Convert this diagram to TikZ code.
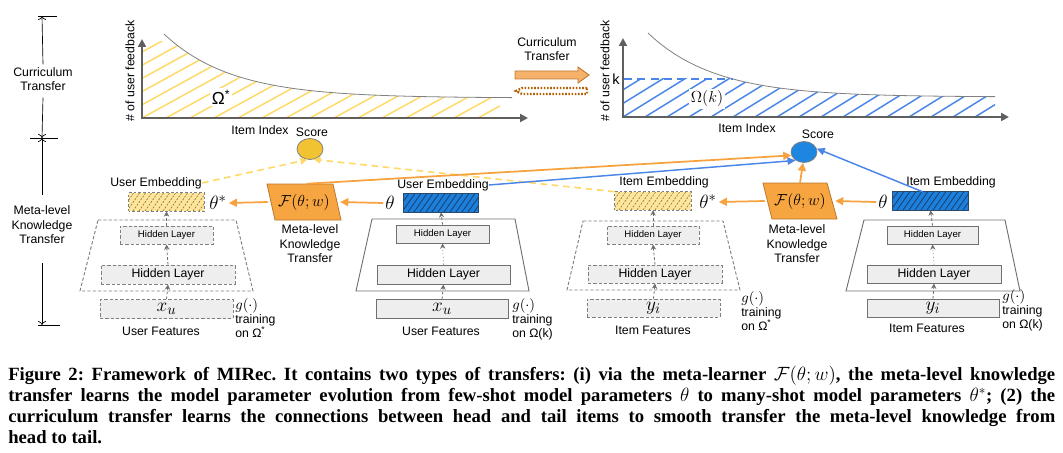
\documentclass[tikz,border=0pt]{standalone}
\usepackage{fontspec}
\setmainfont{Liberation Sans}
\newfontfamily\capfont{Liberation Serif}
\usetikzlibrary{arrows.meta,shapes.geometric}
\definecolor{boxgray}{HTML}{707070}
\definecolor{boxgrayd}{HTML}{808080}
\definecolor{boxfill}{HTML}{EEEEEE}
\definecolor{arrgray}{HTML}{6E6E6E}
\definecolor{axgray}{HTML}{5F5F5F}
\definecolor{orangeL}{HTML}{F8A13F}
\definecolor{fboxfill}{HTML}{F7A541}
\definecolor{fboxdraw}{HTML}{B8762E}
\definecolor{blueL}{HTML}{4A86E8}
\definecolor{bluefill}{HTML}{1C7FDB}
\definecolor{bluehatch}{HTML}{1B3F6E}
\definecolor{blueborder}{HTML}{2B4A6B}
\definecolor{yellowL}{HTML}{FFD966}
\definecolor{yfill}{HTML}{FFE599}
\definecolor{yhatchd}{HTML}{8A7A4A}
\definecolor{scoreY}{HTML}{F1C232}
\definecolor{scoreB}{HTML}{1C86E0}
\definecolor{ctfill}{HTML}{F6B26B}
\definecolor{ctdraw}{HTML}{C07A30}
\definecolor{ctdot}{HTML}{B45F06}
\newcommand\hatchbox[5]{%
  \begin{scope}
    \clip (#1,#2) rectangle (#3,#4);
    \foreach \i in {0,...,22}{\draw[#5] ({#1-14+\i*6},#4) -- ++(14,-20);}
  \end{scope}}
\begin{document}
\begin{tikzpicture}[x=0.75pt,y=-0.75pt,
  lbl/.style={font=\fontsize{9.2}{10.9}\selectfont, inner sep=0pt, align=center},
  lbll/.style={font=\fontsize{9.2}{10.6}\selectfont, inner sep=0pt, align=left, anchor=north west},
  sml/.style={font=\fontsize{7.2}{8}\selectfont},
  mth/.style={font=\fontsize{15}{16}\selectfont, inner sep=1.5pt},
  wh/.style 2 args={minimum width={#1*0.75pt}, minimum height={#2*0.75pt}},
  hb/.style={draw=boxgray, fill=boxfill, line width=0.7pt, inner sep=0pt},
  hbd/.style={draw=boxgrayd, fill=boxfill, line width=0.7pt, inner sep=0pt, dash pattern=on 2.5pt off 1.5pt},
  garr/.style={draw=arrgray, line width=0.6pt, dash pattern=on 2pt off 1.5pt, -{Stealth[length=4pt,width=4pt]}},
  gdot/.style={draw=arrgray, line width=0.6pt, dotted, -{Stealth[length=4pt,width=4pt]}},
  oarr/.style={draw=orangeL, line width=1.3pt, -{Triangle[length=6pt,width=6pt]}},
  barr/.style={draw=blueL, line width=1.1pt, -{Triangle[length=6pt,width=5.5pt]}},
  yarr/.style={draw=yellowL, line width=1.2pt, dash pattern=on 5pt off 3.5pt, -{Triangle[length=5pt,width=5pt]}},
  axis/.style={draw=axgray, line width=1.5pt, -{Triangle[length=6pt,width=6pt]}},
  sarr/.style={draw=black, line width=0.5pt, -{To[length=3pt,width=6pt]}},
  curv/.style={draw=gray, line width=0.6pt},
  yhat/.style={draw=yellowL, line width=1.1pt},
  bhat/.style={draw=blueL, line width=1.1pt},
  score/.style={ellipse, minimum width={26*0.75pt}, minimum height={21*0.75pt}, inner sep=0pt, draw=gray, line width=0.6pt},
  fbox/.style={fill=fboxfill, draw=fboxdraw, line width=0.6pt},
  trap/.style={draw=boxgray, line width=0.7pt},
  trapd/.style={draw=boxgrayd, line width=0.7pt, dash pattern=on 2.5pt off 1.5pt},
]
\useasboundingbox (0,0) rectangle (1063,453);

% ---------------- left scale bar ----------------
\coordinate (tb) at (42,16);
\coordinate (mb) at (42,138);
\coordinate (bb) at (42,325);
\draw[line width=0.5pt] (38,16) -- (57,16);
\draw[line width=0.5pt] (30,138) -- (58,138);
\draw[line width=0.5pt] (38,325) -- (60,325);
\node[lbl] (ctl) at (43,79) {Curriculum\\Transfer};
\node[lbl] (mkl) at (42,225) {Meta-level\\Knowledge\\Transfer};
\draw[sarr] ([yshift=2pt]ctl.north) -- (tb);
\draw[sarr] ([yshift=-5pt]ctl.south) -- (mb);
\draw[sarr] ([yshift=8pt]mkl.north) -- (mb);
\draw[sarr] ([yshift=-14pt]mkl.south) -- (bb);

% ---------------- left chart ----------------
\begin{scope}
  \clip (142,42) rectangle (500,118);
  \clip plot[domain=142:500, samples=80] (\x,{98-64*exp(-(\x-164)/68)}) -- (500,118) -- (142,118) -- cycle;
  \foreach \i in {-7,...,16}{\draw[yhat] ({142+\i*24},118) -- ++(200,-110);}
\end{scope}
\draw[curv] plot[domain=164:512, samples=80] (\x,{98-64*exp(-(\x-164)/68)});
\draw[axis] (142,118) -- (142,39);
\draw[axis] (141,118) -- (528,118);
\node[fill=white, inner sep=1.5pt, font=\fontsize{13}{14}\selectfont] (om1) at (221,97) {Ω\textsuperscript{*}};
\node[lbl, rotate=90] (yl1) at (130,71) {\# of user feedback};
\node[lbl] (xl1) at (260,130) {Item Index};

% ---------------- curriculum transfer arrows ----------------
\node[lbl] (ctm) at (547,49) {Curriculum\\Transfer};
\filldraw[fill=ctfill, draw=ctdraw, line width=0.7pt] (515,71) -- (578,71) -- (578,67) -- (589,75) -- (578,83) -- (578,79) -- (515,79) -- cycle;
\draw[draw=ctdot, line width=1.8pt, dash pattern=on 1.2pt off 1.2pt] (587,88) -- (522,88) -- (516,91) -- (522,94) -- (587,94) -- cycle;

% ---------------- right chart ----------------
\begin{scope}
  \clip (623,79) rectangle (995,117);
  \clip plot[domain=623:995, samples=80] (\x,{97-64*exp(-(\x-648)/67)}) -- (995,117) -- (623,117) -- cycle;
  \foreach \i in {-5,...,17}{\draw[bhat] ({623+\i*22},117) -- ++(170,-105);}
\end{scope}
\draw[curv] plot[domain=648:995, samples=80] (\x,{97-64*exp(-(\x-648)/67)});
\draw[draw=blueL, line width=1.6pt, dash pattern=on 6pt off 4pt] (624,79) -- (733,79);
\draw[axis] (623,117) -- (623,38);
\draw[axis] (622,117) -- (1009,117);
\node[fill=white, inner sep=1.5pt, font=\fontsize{12}{13}\selectfont] (om2) at (707,99) {$\Omega(k)$};
\node[lbl, font=\fontsize{11}{12}\selectfont] (kl) at (616,79) {k};
\node[lbl, rotate=90] (yl2) at (605,71) {\# of user feedback};
\node[lbl] (xl2) at (747,128) {Item Index};

% ---------------- scores ----------------
\node[lbl] at (312,132) {Score};
\node[score, fill=scoreY] (su) at (310,149) {};
\node[lbl] at (818,134) {Score};
\node[score, fill=scoreB] (si) at (804,152) {};

% ================= USER half =================
\draw[trapd] (98,220) -- (236,220) -- (253,291) -- (80,291) -- cycle;
\node[hbd, wh={93}{18}, sml] (sh1) at (166.5,235) {Hidden Layer};
\node[hbd, wh={134}{19}, lbl] (bh1) at (168,274.5) {Hidden Layer};
\node[hbd, wh={133}{19}, font=\fontsize{15}{16}\selectfont] (x1) at (166.5,309) {$x_u$};
\node[lbl] (uf1) at (161,331) {User Features};
\node[lbll] (g1) at (235,298) {{\fontsize{10.5}{11}\selectfont$g(\cdot)$}\\training\\on Ω\textsuperscript{*}};
\node[wh={75}{18}, fill=yfill, inner sep=0pt] (eu1) at (166.5,202) {};
\hatchbox{129}{193}{204}{211}{draw=yhatchd, line width=0.5pt, dash pattern=on 1.5pt off 1pt}
\draw[draw=boxgrayd, line width=0.6pt, dash pattern=on 2pt off 1.5pt] (eu1.south west) rectangle (eu1.north east);
\node[lbl] (uel1) at (156,183) {User Embedding};
\node[mth] (thsu) at (218,203) {$\theta^*$};
\draw[garr] (x1.north) -- (bh1.south);
\draw[garr] (bh1.north) -- (sh1.south);
\draw[garr] (sh1.north) -- (eu1.south);

\filldraw[fbox] (267,184) -- (333,184) -- (341,220) -- (275,220) -- cycle;
\node[wh={72}{36}, inner sep=0pt, font=\fontsize{13}{14}\selectfont] (Fu) at (304,202) {$\mathcal{F}(\theta;w)$};
\node[lbl] (mk1) at (310,244) {Meta-level\\Knowledge\\Transfer};

\draw[trap] (372,219) -- (515,219) -- (529,291) -- (356,291) -- cycle;
\node[hb, wh={93}{18}, sml] (sh2) at (442.5,234) {Hidden Layer};
\node[hb, wh={133}{19}, lbl] (bh2) at (443.5,274.5) {Hidden Layer};
\node[hb, wh={132}{19}, font=\fontsize{15}{16}\selectfont] (x2) at (442,309) {$x_u$};
\node[lbl] (uf2) at (441,331) {User Features};
\node[lbll] (g2) at (512,298) {{\fontsize{10.5}{11}\selectfont$g(\cdot)$}\\training\\on Ω(k)};
\node[wh={74}{18}, fill=bluefill, inner sep=0pt] (bu) at (441,203) {};
\hatchbox{404}{194}{478}{212}{draw=bluehatch, line width=0.6pt}
\draw[draw=blueborder, line width=0.7pt] (bu.south west) rectangle (bu.north east);
\node[lbl] (uel2) at (443,185) {User Embedding};
\node[mth] (thu) at (390,203) {$\theta$};
\draw[garr] (x2.north) -- (bh2.south);
\draw[gdot] (bh2.north) -- (sh2.south);
\draw[garr] (sh2.north) -- (bu.south);

% ================= ITEM half =================
\draw[trapd] (583,221) -- (723,221) -- (740,290) -- (567,290) -- cycle;
\node[hbd, wh={92}{18}, sml] (sh3) at (653,235) {Hidden Layer};
\node[hbd, wh={134}{18}, lbl] (bh3) at (655,274) {Hidden Layer};
\node[hbd, wh={133}{18}, font=\fontsize{15}{16}\selectfont] (y3) at (653.5,308) {$y_i$};
\node[lbl] (if3) at (653,330) {Item Features};
\node[lbll] (g3) at (741,291) {{\fontsize{10.5}{11}\selectfont$g(\cdot)$}\\training\\on Ω\textsuperscript{*}};
\node[wh={76}{18}, fill=yfill, inner sep=0pt] (ei1) at (653,201) {};
\hatchbox{615}{192}{691}{210}{draw=yhatchd, line width=0.5pt, dash pattern=on 1.5pt off 1pt}
\draw[draw=boxgrayd, line width=0.6pt, dash pattern=on 2pt off 1.5pt] (ei1.south west) rectangle (ei1.north east);
\node[lbl] (iel1) at (664,182) {Item Embedding};
\node[mth] (thsi) at (708,202) {$\theta^*$};
\draw[garr] (y3.north) -- (bh3.south);
\draw[garr] (bh3.north) -- (sh3.south);
\draw[garr] (sh3.north) -- (ei1.south);

\filldraw[fbox] (763,183) -- (827,183) -- (837,219) -- (772,219) -- cycle;
\node[wh={70}{36}, inner sep=0pt, font=\fontsize{13}{14}\selectfont] (Fi) at (800,201) {$\mathcal{F}(\theta;w)$};
\node[lbl] (mk2) at (797,244) {Meta-level\\Knowledge\\Transfer};

\draw[trap] (864,220) -- (1005,220) -- (1020,291) -- (846,291) -- cycle;
\node[hb, wh={91}{18}, sml] (sh4) at (932.5,235) {Hidden Layer};
\node[hb, wh={134}{18}, lbl] (bh4) at (934,274) {Hidden Layer};
\node[hb, wh={132}{18}, font=\fontsize{15}{16}\selectfont] (y4) at (933,308) {$y_i$};
\node[lbl] (if4) at (927,328) {Item Features};
\node[lbll] (g4) at (1002,289) {{\fontsize{10.5}{11}\selectfont$g(\cdot)$}\\training\\on Ω(k)};
\node[wh={75}{18}, fill=bluefill, inner sep=0pt] (bi) at (930.5,201) {};
\hatchbox{893}{192}{968}{210}{draw=bluehatch, line width=0.6pt}
\draw[draw=blueborder, line width=0.7pt] (bi.south west) rectangle (bi.north east);
\node[lbl] (iel2) at (951,182) {Item Embedding};
\node[mth] (thi) at (883,202) {$\theta$};
\draw[garr] (y4.north) -- (bh4.south);
\draw[gdot] (bh4.north) -- (sh4.south);
\draw[garr] (sh4.north) -- (bi.south);

% ---------------- connectors ----------------
\draw[oarr] (thu.west) -- (Fu.east);
\draw[oarr] (Fu.west) -- (thsu.east);
\draw[oarr] (thi.west) -- (Fi.east);
\draw[oarr] (Fi.west) -- (thsi.east);
\draw[yarr] (uel1.east) -- (su.255);
\draw[yarr] (ei1.north west) -- (su.290);
\draw[oarr] ([xshift=2pt]Fu.north) -- (si.195);
\draw[barr] (uel2.east) -- (si.225);
\draw[oarr] (Fi.north) -- (si.265);
\draw[barr] ([xshift=-6pt]bi.north) -- (si.15);

% ---------------- caption ----------------
\node[anchor=north west, inner sep=0pt, text width={1047*0.75pt}, align=justify,
      font=\capfont\bfseries\fontsize{14}{15.75}\selectfont] (cap) at (8,366)
 {\frenchspacing Figure 2: Framework of MIRec. It contains two types of transfers: (i) via the meta-learner $\mathcal{F}(\theta;w)$, the meta-level knowledge\linebreak
 transfer learns the model parameter evolution from few-shot model parameters $\theta$ to many-shot model parameters $\smash{\theta^*}$; (2) the\linebreak
 curriculum transfer learns the connections between head and tail items to smooth transfer the meta-level knowledge from\linebreak
 head to tail.};
\end{tikzpicture}
\end{document}
